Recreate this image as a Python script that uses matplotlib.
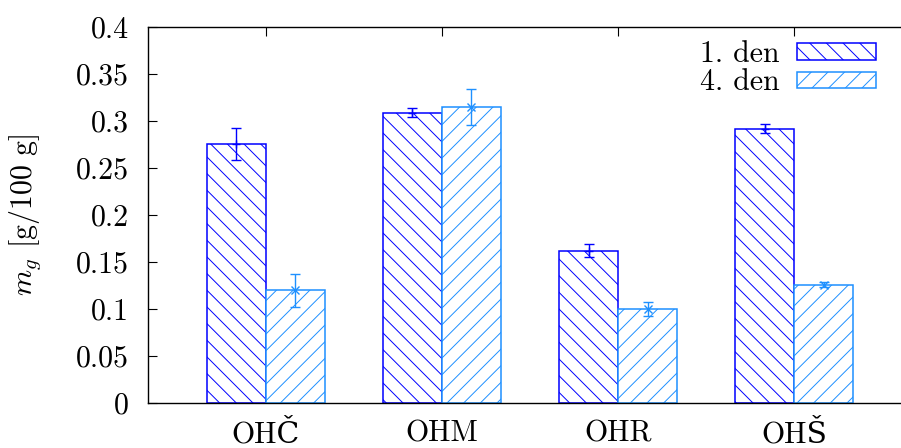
import numpy as np
import matplotlib
matplotlib.use("Agg")
import matplotlib.pyplot as plt

categories = ["OHČ", "OHM", "OHR", "OHŠ"]
series_names = ["1. den", "4. den"]
day1 = [0.276, 0.309, 0.162, 0.292]
day1_err = [0.017, 0.0045, 0.0067, 0.005]
day4 = [0.120, 0.315, 0.100, 0.126]
day4_err = [0.0175, 0.019, 0.0074, 0.0025]
yticks = [0, 0.05, 0.1, 0.15, 0.2, 0.25, 0.3, 0.35, 0.4]
ytick_labels = ["0", "0.05", "0.1", "0.15", "0.2", "0.25", "0.3", "0.35", "0.4"]

plt.rcParams['font.family'] = ['cmr10', 'DejaVu Serif']
plt.rcParams['mathtext.fontset'] = 'cm'
plt.rcParams['axes.unicode_minus'] = False
plt.rcParams['hatch.linewidth'] = 0.7
FS = 21.5

c1 = '#0000ff'
c2 = '#1e90ff'

fig = plt.figure(figsize=(9.01, 4.48), dpi=100)
W, H = 901, 448
left, right, top, bottom = 148, 912, 27, 403
ax = fig.add_axes([left / W, 1 - bottom / H, (right - left) / W, (bottom - top) / H])

x = np.arange(len(categories))
w = 0.335
b1 = ax.bar(x - w / 2, day1, w, facecolor='white', edgecolor=c1, hatch='\\\\', linewidth=1.1, label=series_names[0], zorder=2)
b2 = ax.bar(x + w / 2, day4, w, facecolor='white', edgecolor=c2, hatch='//', linewidth=1.1, label=series_names[1], zorder=2)
ax.errorbar(x - w / 2, day1, yerr=day1_err, fmt='+', color=c1, ecolor=c1, capsize=3.6, elinewidth=1.0, capthick=1.0, markersize=6, zorder=3)
ax.errorbar(x + w / 2, day4, yerr=day4_err, fmt='x', color=c2, ecolor=c2, capsize=3.6, elinewidth=1.0, capthick=1.0, markersize=6, zorder=3)

ax.set_xlim(-0.67, 3.67)
ax.set_ylim(0, 0.4)
ax.set_yticks(yticks)
ax.set_yticklabels(ytick_labels, fontsize=FS)
ax.set_xticks(x)
ax.set_xticklabels(categories, fontsize=FS)
ax.tick_params(axis='y', direction='in', length=6.5, width=0.8, pad=14, left=True, right=True)
ax.tick_params(axis='x', direction='in', length=6.5, width=0.8, pad=12, bottom=True, top=True)
for s in ax.spines.values():
    s.set_linewidth(1.0)

ax.set_ylabel("$m_g$ [g/100 g]", fontsize=FS)
ax.yaxis.set_label_coords(-0.137, 0.5)

leg = ax.legend(handles=[b1, b2], loc='upper right', bbox_to_anchor=((876 - left) / (right - left), 1 - (41 - top) / (bottom - top)),
                frameon=False, fontsize=FS, markerfirst=False, handlelength=2.63, handleheight=0.48,
                handletextpad=0.6, labelspacing=0.02, borderpad=0, borderaxespad=0)

fig.savefig("out.png", dpi=100)
